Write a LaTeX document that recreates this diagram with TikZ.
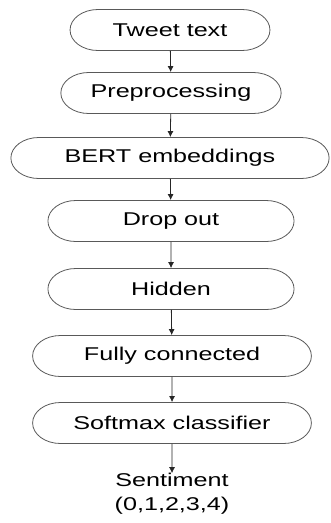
\documentclass[tikz,border=0pt]{standalone}
\usepackage{fontspec}
\setmainfont{Liberation Sans}
\usetikzlibrary{shapes.misc,arrows.meta}

\begin{document}
\begin{tikzpicture}[
    x=0.7353pt, y=-1pt,
    xscale=1.36,
    transform shape,
    stage/.style={rounded rectangle, draw=black!65, line width=0.8pt, minimum height=41pt, inner sep=0pt, font=\fontsize{18.5}{24}\selectfont},
    result/.style={align=center, inner sep=0pt, font=\fontsize{18.5}{24}\selectfont},
    arrow/.style={-{Latex[length=6pt,width=6pt]}, draw=black!85, line width=0.8pt}
]
\useasboundingbox (0,0) rectangle (330,523);

% Pipeline stages
\node[stage, minimum width=147pt] (tweet) at (170,30) {Tweet text};
\node[stage, minimum width=162pt] (prep) at (171,93) {Preprocessing};
\node[stage, minimum width=234pt] (bert) at (170,158) {BERT embeddings};
\node[stage, minimum width=181pt] (drop) at (171,221) {Drop out};
\node[stage, minimum width=181pt] (hidden) at (171,289) {Hidden};
\node[stage, minimum width=205pt] (dense) at (172,356) {Fully connected};
\node[stage, minimum width=205pt] (softmax) at (172,423) {Softmax classifier};

% Output
\node[result] (sentiment) at (172,494) {Sentiment\\(0,1,2,3,4)};

% Connections
\draw[arrow] (tweet) -- (prep);
\draw[arrow] (prep) -- (bert);
\draw[arrow] (bert) -- (drop);
\draw[arrow] (drop) -- (hidden);
\draw[arrow] (hidden) -- (dense);
\draw[arrow] (dense) -- (softmax);
\draw[arrow] (softmax) -- (sentiment);

\end{tikzpicture}
\end{document}
